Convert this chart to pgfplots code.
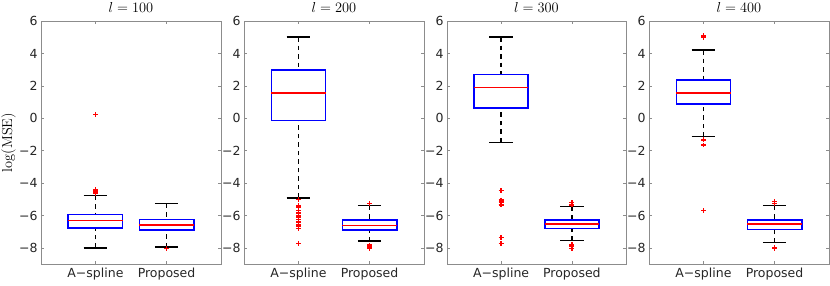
\documentclass[border=0pt]{standalone}
\usepackage[no-math]{fontspec}
\setmainfont{DejaVu Sans}
\usepackage{pgfplots}
\pgfplotsset{compat=1.18}
\usepgfplotslibrary{statistics}
\definecolor{axgray}{RGB}{140,140,140}
\definecolor{lblgray}{RGB}{38,38,38}
\pgfplotsset{
  myaxis/.style={
    scale only axis, width=180pt, height=242.7pt,
    xmin=0.235, xmax=2.765, ymin=-9, ymax=6,
    xtick={1,2}, xticklabels={A−spline,Proposed},
    ytick={-8,-6,-4,-2,0,2,4,6}, yticklabels={−8,−6,−4,−2,0,2,4,6},
    tick align=inside, major tick length=3pt,
    axis line style={axgray, line width=0.6pt},
    every tick/.style={axgray, line width=0.6pt},
    tick label style={font=\fontsize{12.5}{14}\selectfont, text=lblgray},
    every axis title/.style={at={(axis description cs:0.5,1)}, anchor=base, yshift=8.6pt, font=\fontsize{15.5}{17}\selectfont},
    anchor=south west,
    boxplot/draw direction=y,
    boxplot/box extend=0.764,
    boxplot/whisker extend=0.33,
    boxplot/draw/box/.code={\draw[blue, line width=1.5pt] (boxplot box cs:\pgfplotsboxplotvalue{lower quartile},0) rectangle (boxplot box cs:\pgfplotsboxplotvalue{upper quartile},1);},
    boxplot/draw/median/.code={\draw[red, line width=1.4pt] (boxplot box cs:\pgfplotsboxplotvalue{median},0) -- (boxplot box cs:\pgfplotsboxplotvalue{median},1);},
    boxplot/draw/lower whisker/.code={%
      \draw[black, line width=1.3pt, dash pattern=on 4.5pt off 4pt] (boxplot cs:\pgfplotsboxplotvalue{lower whisker}) -- (boxplot cs:\pgfplotsboxplotvalue{lower quartile});
      \draw[black, line width=1.4pt] (boxplot whisker cs:\pgfplotsboxplotvalue{lower whisker},0) -- (boxplot whisker cs:\pgfplotsboxplotvalue{lower whisker},1);},
    boxplot/draw/upper whisker/.code={%
      \draw[black, line width=1.3pt, dash pattern=on 4.5pt off 4pt] (boxplot cs:\pgfplotsboxplotvalue{upper whisker}) -- (boxplot cs:\pgfplotsboxplotvalue{upper quartile});
      \draw[black, line width=1.4pt] (boxplot whisker cs:\pgfplotsboxplotvalue{upper whisker},0) -- (boxplot whisker cs:\pgfplotsboxplotvalue{upper whisker},1);},
  },
  outl/.style={red, mark=+, mark size=2.4pt, mark options={red, draw=red, line width=1.5pt}},
}
\begin{document}
\begin{tikzpicture}
\useasboundingbox (0,0) rectangle (830pt,285pt);
% ---- l = 100 ----
\begin{axis}[myaxis, at={(41pt,21pt)}, title={$l = 100$},
  ylabel={$\log(\mathrm{MSE})$},
  every axis y label/.style={at={(axis description cs:-0.18,0.5)}, rotate=90, anchor=center, font=\fontsize{15}{17}\selectfont}]
\addplot[outl, boxplot prepared={draw position=1, lower whisker=-8.0, lower quartile=-6.79, median=-6.32, upper quartile=-5.95, upper whisker=-4.77}]
  table[row sep=\\, y index=0] {data\\ 0.24\\ -4.42\\ -4.55\\ -4.63\\};
\addplot[outl, boxplot prepared={draw position=2, lower whisker=-7.95, lower quartile=-6.9, median=-6.59, upper quartile=-6.24, upper whisker=-5.27}]
  table[row sep=\\, y index=0] {data\\ -8.03\\};
\end{axis}
% ---- l = 200 ----
\begin{axis}[myaxis, at={(244pt,21pt)}, title={$l = 200$}]
\addplot[outl, boxplot prepared={draw position=1, lower whisker=-4.92, lower quartile=-0.13, median=1.58, upper quartile=3.0, upper whisker=5.02}]
  table[row sep=\\, y index=0] {data\\ -5.0\\ -5.4\\ -5.5\\ -5.7\\ -5.85\\ -6.0\\ -6.1\\ -6.25\\ -6.4\\ -6.55\\ -6.65\\ -6.8\\ -7.72\\};
\addplot[outl, boxplot prepared={draw position=2, lower whisker=-7.58, lower quartile=-6.9, median=-6.61, upper quartile=-6.28, upper whisker=-5.39}]
  table[row sep=\\, y index=0] {data\\ -5.27\\ -7.82\\ -7.95\\ -8.03\\};
\end{axis}
% ---- l = 300 ----
\begin{axis}[myaxis, width=179pt, at={(447pt,21pt)}, title={$l = 300$}]
\addplot[outl, boxplot prepared={draw position=1, lower whisker=-1.49, lower quartile=0.63, median=1.89, upper quartile=2.71, upper whisker=5.02}]
  table[row sep=\\, y index=0] {data\\ -4.46\\ -5.04\\ -5.16\\ -5.31\\ -5.35\\ -7.37\\ -7.72\\};
\addplot[outl, boxplot prepared={draw position=2, lower whisker=-7.56, lower quartile=-6.82, median=-6.53, upper quartile=-6.28, upper whisker=-5.45}]
  table[row sep=\\, y index=0] {data\\ -5.2\\ -5.35\\ -7.8\\ -7.9\\ -8.03\\};
\end{axis}
% ---- l = 400 ----
\begin{axis}[myaxis, at={(649pt,21pt)}, title={$l = 400$}]
\addplot[outl, boxplot prepared={draw position=1, lower whisker=-1.12, lower quartile=0.88, median=1.56, upper quartile=2.36, upper whisker=4.22}]
  table[row sep=\\, y index=0] {data\\ 5.0\\ 5.1\\ -1.33\\ -1.64\\ -5.70\\};
\addplot[outl, boxplot prepared={draw position=2, lower whisker=-7.68, lower quartile=-6.86, median=-6.53, upper quartile=-6.28, upper whisker=-5.39}]
  table[row sep=\\, y index=0] {data\\ -5.14\\ -5.25\\ -7.97\\ -8.03\\};
\end{axis}
\end{tikzpicture}
\end{document}
